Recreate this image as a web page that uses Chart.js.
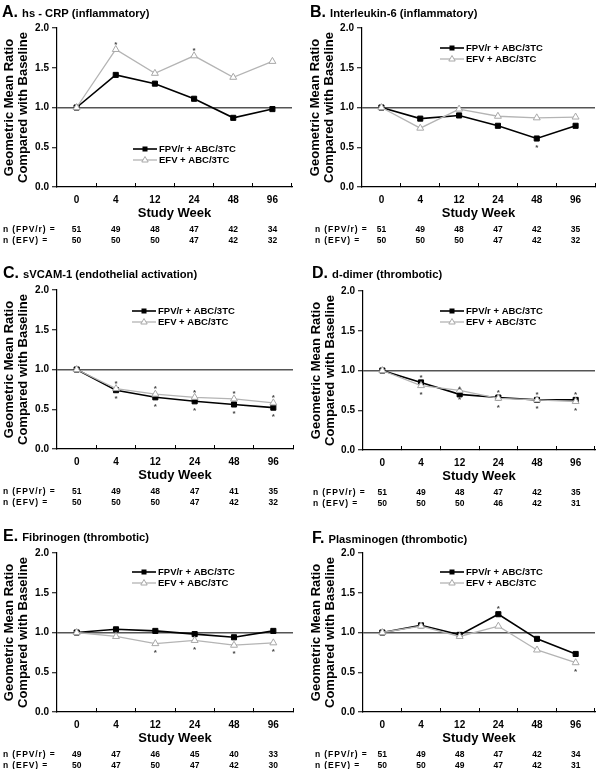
<!DOCTYPE html>
<html>
<head>
<meta charset="utf-8">
<script src="https://cdn.jsdelivr.net/npm/chart.js@4.4.1/dist/chart.umd.min.js"></script>
<style>
  body { margin: 0; background: #fff; }
  #page { position: relative; width: 600px; height: 769px; background: #fff; }
  .panel { position: absolute; width: 300px; }
  canvas { display: block; }
</style>
</head>
<body>
<div id="page">
  <div class="panel" style="left:0;top:0"><canvas id="pA" width="300" height="250"></canvas></div>
  <div class="panel" style="left:300px;top:0"><canvas id="pB" width="300" height="250"></canvas></div>
  <div class="panel" style="left:0;top:250px"><canvas id="pC" width="300" height="264"></canvas></div>
  <div class="panel" style="left:300px;top:250px"><canvas id="pD" width="300" height="264"></canvas></div>
  <div class="panel" style="left:0;top:505px"><canvas id="pE" width="300" height="264"></canvas></div>
  <div class="panel" style="left:300px;top:505px"><canvas id="pF" width="300" height="264"></canvas></div>
</div>
<script>
const FONT = '"Liberation Sans", Arial, sans-serif'

const weeks = ['0', '4', '12', '24', '48', '96']
const seriesNames = ['FPV/r + ABC/3TC', 'EFV + ABC/3TC']
const nRowLabels = ['n (FPV/r) =', 'n (EFV) =']

// A. hs-CRP
const crpFPV = [1.00, 1.41, 1.30, 1.11, 0.87, 0.98]
const crpEFV = [1.00, 1.73, 1.43, 1.65, 1.38, 1.58]
const crpStarFPV = [0, 0, 0, 0, 0, 0]
const crpStarEFV = [0, 1, 0, 1, 0, 0]
const crpNFPV = [51, 49, 48, 47, 42, 34]
const crpNEFV = [50, 50, 50, 47, 42, 32]

// B. Interleukin-6
const il6FPV = [1.00, 0.86, 0.90, 0.77, 0.61, 0.77]
const il6EFV = [1.00, 0.74, 0.98, 0.89, 0.87, 0.88]
const il6StarFPV = [0, 0, 0, 0, -1, 0]
const il6StarEFV = [0, 0, 0, 0, 0, 0]
const il6NFPV = [51, 49, 48, 47, 42, 35]
const il6NEFV = [50, 50, 50, 47, 42, 32]

// C. sVCAM-1
const vcamFPV = [1.00, 0.74, 0.65, 0.60, 0.56, 0.52]
const vcamEFV = [1.00, 0.76, 0.69, 0.65, 0.63, 0.58]
const vcamStarFPV = [0, -1, -1, -1, -1, -1]
const vcamStarEFV = [0, 1, 1, 1, 1, 1]
const vcamNFPV = [51, 49, 48, 47, 41, 35]
const vcamNEFV = [50, 50, 50, 47, 42, 32]

// D. d-dimer
const ddFPV = [1.00, 0.85, 0.70, 0.66, 0.63, 0.63]
const ddEFV = [1.00, 0.81, 0.75, 0.65, 0.63, 0.61]
const ddStarFPV = [0, 1, 1, 1, 1, 1]
const ddStarEFV = [0, -1, -1, -1, -1, -1]
const ddNFPV = [51, 49, 48, 47, 42, 35]
const ddNEFV = [50, 50, 50, 46, 42, 31]

// E. Fibrinogen
const fibFPV = [1.00, 1.04, 1.02, 0.98, 0.94, 1.02]
const fibEFV = [1.00, 0.95, 0.86, 0.90, 0.84, 0.87]
const fibStarFPV = [0, 0, 0, 0, 0, 0]
const fibStarEFV = [0, 0, -1, -1, -1, -1]
const fibNFPV = [49, 47, 46, 45, 40, 33]
const fibNEFV = [50, 47, 50, 47, 42, 30]

// F. Plasminogen
const plgFPV = [1.00, 1.09, 0.97, 1.23, 0.92, 0.73]
const plgEFV = [1.00, 1.08, 0.95, 1.08, 0.78, 0.62]
const plgStarFPV = [0, 0, 0, 1, 0, 0]
const plgStarEFV = [0, 0, 0, 0, 0, -1]
const plgNFPV = [51, 49, 48, 47, 42, 34]
const plgNEFV = [50, 50, 49, 47, 42, 31]

// titles, legend, n table and asterisks
const extras = {
    id: 'extras',
    afterDatasetsDraw(chart, args, opts) {
        const ctx = chart.ctx
        ctx.save()
        ctx.fillStyle = '#444'
        ctx.font = 'bold 8px ' + FONT
        ctx.textAlign = 'center'
        ctx.textBaseline = 'middle'
        chart.data.datasets.forEach((ds, i) => {
            const meta = chart.getDatasetMeta(i)
            ds.stars.forEach((s, j) => {
                if (!s) return
                const p = meta.data[j]
                ctx.fillText('*', p.x, p.y - s * 7 + 2)
            })
        })
        ctx.restore()
    },
    afterDraw(chart, args, opts) {
        const ctx = chart.ctx
        const area = chart.chartArea
        ctx.save()

        // panel title
        ctx.fillStyle = '#000'
        ctx.textAlign = 'left'
        ctx.textBaseline = 'alphabetic'
        ctx.font = 'bold 16px ' + FONT
        ctx.fillText(opts.letter, opts.titleX, opts.titleY + 5.5)
        const w = ctx.measureText(opts.letter).width
        ctx.font = 'bold 11.2px ' + FONT
        ctx.fillText(opts.name, opts.titleX + w + 1, opts.titleY + 5.5)

        // legend
        const lx = area.left + opts.legendX
        const ly = area.top + opts.legendY
        chart.data.datasets.forEach((ds, i) => {
            const y = ly + i * 11
            ctx.strokeStyle = ds.borderColor
            ctx.lineWidth = ds.borderWidth
            ctx.beginPath()
            ctx.moveTo(lx, y)
            ctx.lineTo(lx + 24, y)
            ctx.stroke()
            const mx = lx + 12
            ctx.lineWidth = 1
            if (ds.pointStyle === 'rect') {
                ctx.fillStyle = ds.pointBackgroundColor
                ctx.fillRect(mx - 2.5, y - 2.5, 5, 5)
            } else {
                ctx.fillStyle = ds.pointBackgroundColor
                ctx.strokeStyle = ds.pointBorderColor
                ctx.beginPath()
                ctx.moveTo(mx, y - 3.5)
                ctx.lineTo(mx + 3.2, y + 2)
                ctx.lineTo(mx - 3.2, y + 2)
                ctx.closePath()
                ctx.fill()
                ctx.stroke()
            }
            ctx.fillStyle = '#000'
            ctx.font = 'bold 9.5px ' + FONT
            ctx.textBaseline = 'middle'
            ctx.fillText(seriesNames[i], lx + 26, y + 0.5)
        })

        // n table under the axis
        const xs = chart.scales.x
        ctx.font = 'bold 8.5px ' + FONT
        ctx.textBaseline = 'middle'
        const rows = [opts.nFPV, opts.nEFV]
        rows.forEach((vals, r) => {
            const y = area.bottom + 43 + r * 10.5
            ctx.textAlign = 'left'
            ctx.letterSpacing = '0.9px'
            ctx.fillText(nRowLabels[r], opts.nLabelX, y)
            ctx.letterSpacing = '0px'
            ctx.textAlign = 'center'
            vals.forEach((v, j) => ctx.fillText(String(v), xs.getPixelForValue(j), y))
        })
        ctx.restore()
    }
}

function makeChart(id, letter, name, fpv, efv, starF, starE, nF, nE, box) {
    const canvas = document.getElementById(id)
    return new Chart(canvas.getContext('2d'), {
        type: 'line',
        data: {
            labels: weeks,
            datasets: [
                {
                    label: seriesNames[0],
                    data: fpv,
                    stars: starF,
                    borderColor: '#000',
                    borderWidth: 1.6,
                    pointStyle: 'rect',
                    pointRadius: 3.6,
                    pointBackgroundColor: '#000',
                    pointBorderColor: '#000',
                    pointBorderWidth: 1,
                    tension: 0,
                    order: 1
                },
                {
                    label: seriesNames[1],
                    data: efv,
                    stars: starE,
                    borderColor: '#b4b4b4',
                    borderWidth: 1.3,
                    pointStyle: 'triangle',
                    pointRadius: 4,
                    pointBackgroundColor: '#fff',
                    pointBorderColor: '#a8a8a8',
                    pointBorderWidth: 1,
                    tension: 0,
                    order: 0
                }
            ]
        },
        options: {
            responsive: false,
            animation: false,
            events: [],
            layout: { padding: { left: box.padL, right: box.padR, top: box.padT, bottom: box.padB } },
            plugins: {
                legend: { display: false },
                tooltip: { enabled: false },
                extras: {
                    letter: letter, name: name,
                    titleX: box.titleX, titleY: box.titleY,
                    legendX: box.legendX, legendY: box.legendY,
                    nLabelX: box.nLabelX, nFPV: nF, nEFV: nE
                }
            },
            scales: {
                x: {
                    offset: true,
                    grid: { offset: true, drawOnChartArea: false, drawTicks: true, tickLength: -4, tickColor: '#000', tickWidth: 1 },
                    border: { color: '#000', width: 1.2 },
                    ticks: { color: '#000', font: { family: FONT, size: 10, weight: 'bold' }, padding: 11, maxRotation: 0, autoSkip: false },
                    title: { display: true, text: 'Study Week', color: '#000', font: { family: FONT, size: 13, weight: 'bold' }, padding: 0 },
                    afterFit: s => { s.height = 34 }
                },
                y: {
                    min: 0,
                    max: 2,
                    ticks: { stepSize: 0.5, callback: v => v.toFixed(1), color: '#000', font: { family: FONT, size: 10, weight: 'bold' }, padding: 3 },
                    grid: {
                        color: c => (c.tick && c.tick.value === 1) ? '#555' : 'rgba(0,0,0,0)',
                        lineWidth: 1.5,
                        tickColor: '#000',
                        tickWidth: 1,
                        tickLength: 5
                    },
                    border: { color: '#000', width: 1.2 },
                    title: {
                        display: true,
                        text: ['Geometric Mean Ratio', 'Compared with Baseline'],
                        color: '#000',
                        font: { family: FONT, size: 13, weight: 'bold', lineHeight: 1.1 },
                        padding: { top: box.yTitlePad, bottom: 0 }
                    },
                    afterFit: s => { s.width = 57 }
                }
            }
        },
        plugins: [extras]
    })
}

makeChart('pA', 'A.', ' hs - CRP (inflammatory)', crpFPV, crpEFV, crpStarFPV, crpStarEFV, crpNFPV, crpNEFV,
    { padL: 0, padR: 8, padT: 28, padB: 29, titleX: 2, titleY: 11, legendX: 76, legendY: 121, nLabelX: 3, yTitlePad: 2 })
makeChart('pB', 'B.', ' Interleukin-6 (inflammatory)', il6FPV, il6EFV, il6StarFPV, il6StarEFV, il6NFPV, il6NEFV,
    { padL: 5, padR: 3, padT: 28, padB: 29, titleX: 10, titleY: 11, legendX: 78, legendY: 20, nLabelX: 15, yTitlePad: 3 })
makeChart('pC', 'C.', ' sVCAM-1 (endothelial activation)', vcamFPV, vcamEFV, vcamStarFPV, vcamStarEFV, vcamNFPV, vcamNEFV,
    { padL: 0, padR: 7, padT: 40, padB: 31, titleX: 3, titleY: 22, legendX: 75, legendY: 21, nLabelX: 3, yTitlePad: 2 })
makeChart('pD', 'D.', ' d-dimer (thrombotic)', ddFPV, ddEFV, ddStarFPV, ddStarEFV, ddNFPV, ddNEFV,
    { padL: 6, padR: 3, padT: 41, padB: 30, titleX: 12, titleY: 22, legendX: 77, legendY: 20, nLabelX: 13, yTitlePad: 3 })
makeChart('pE', 'E.', ' Fibrinogen (thrombotic)', fibFPV, fibEFV, fibStarFPV, fibStarEFV, fibNFPV, fibNEFV,
    { padL: 0, padR: 7, padT: 48, padB: 23, titleX: 3, titleY: 30.5, legendX: 75, legendY: 19, nLabelX: 3, yTitlePad: 2 })
makeChart('pF', 'F.', ' Plasminogen (thrombotic)', plgFPV, plgEFV, plgStarFPV, plgStarEFV, plgNFPV, plgNEFV,
    { padL: 6, padR: 2, padT: 48, padB: 23, titleX: 12, titleY: 32.5, legendX: 77, legendY: 19, nLabelX: 15, yTitlePad: 3 })
</script>
</body>
</html>
